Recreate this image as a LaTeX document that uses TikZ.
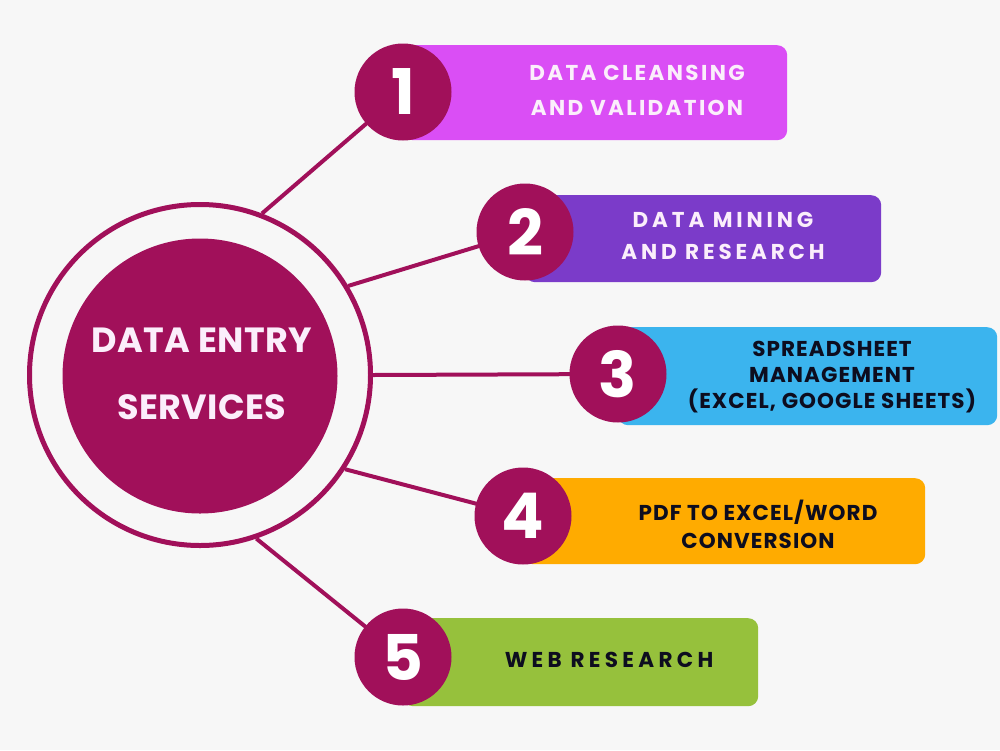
\documentclass[tikz,border=0pt]{standalone}
\usepackage{fontspec}
\setmainfont{Poppins}
\newfontfamily\lsa{Poppins}[LetterSpace=11]
\newfontfamily\lsb{Poppins}[LetterSpace=18]
\newfontfamily\lsc{Poppins}[LetterSpace=5]
\newfontfamily\lsd{Poppins}[LetterSpace=5]
\newfontfamily\lse{Poppins}[LetterSpace=20]
\newfontfamily\lsm{Poppins}[LetterSpace=1]
\pgfdeclarelayer{bg}
\pgfsetlayers{bg,main}
\definecolor{maroon}{HTML}{A1105A}
\definecolor{bgcol}{HTML}{F7F7F7}
\definecolor{cone}{HTML}{DA4EF5}
\definecolor{ctwo}{HTML}{7B3BC9}
\definecolor{cthree}{HTML}{3BB4EE}
\definecolor{cfour}{HTML}{FFAB00}
\definecolor{cfive}{HTML}{96C13C}
\definecolor{lighttxt}{HTML}{FBEEFB}
\definecolor{darktxt}{HTML}{0D0D1F}
\tikzset{
  numc/.style={circle, fill=maroon, minimum size=97pt, inner sep=0pt, text=white, font=\fontsize{63}{63}\selectfont\bfseries},
  itembox/.style={rectangle, rounded corners=10pt, inner sep=0pt, anchor=north west},
  conn/.style={draw=maroon, line width=4pt},
  lbl/.style={align=center, inner sep=0pt},
}
\begin{document}
\begin{tikzpicture}[x=1pt,y=-1pt]
\useasboundingbox (0,0) rectangle (1000,750);
% central
\node[circle, draw=maroon, line width=5pt, minimum size=341pt, inner sep=0pt] (ring) at (200,375) {};
\node[circle, fill=maroon, minimum size=275pt, inner sep=0pt] (core) at (200,376) {};
\node[lbl, text=lighttxt, font=\lsm\fontsize{35}{67}\selectfont\bfseries] (ctext) at (202,374) {DATA ENTRY\\SERVICES};
% boxes
\node[itembox, fill=cone,   minimum width=384pt, minimum height=95pt] (b1) at (403,45) {};
\node[itembox, fill=ctwo,   minimum width=356pt, minimum height=87pt] (b2) at (525,195) {};
\node[itembox, fill=cthree, minimum width=379pt, minimum height=98pt] (b3) at (618,327) {};
\node[itembox, fill=cfour,  minimum width=402pt, minimum height=86pt] (b4) at (523,478) {};
\node[itembox, fill=cfive,  minimum width=355pt, minimum height=88pt] (b5) at (403,618) {};
% number circles
\node[numc] (n1) at (403,92) {1};
\node[numc] (n2) at (525,232) {2};
\node[numc] (n3) at (618,374) {3};
\node[numc] (n4) at (523,516) {4};
\node[numc] (n5) at (403,657) {5};
% labels
\node[lbl, text=lighttxt, font=\lsa\fontsize{21.5}{35}\selectfont\bfseries] (t1) at (637,90) {DATA CLEANSING\\AND VALIDATION};
\node[lbl, text=lighttxt, font=\lsb\fontsize{21.5}{32}\selectfont\bfseries] (t2) at (723,236) {DATA MINING\\AND RESEARCH};
\node[lbl, text=darktxt, font=\lsc\fontsize{21.5}{26}\selectfont\bfseries] (t3) at (832,377) {SPREADSHEET\\MANAGEMENT\\(EXCEL, GOOGLE SHEETS)};
\node[lbl, text=darktxt, font=\lsd\fontsize{21.5}{28}\selectfont\bfseries] (t4) at (758,524) {PDF TO EXCEL/WORD\\CONVERSION};
\node[lbl, text=darktxt, font=\lse\fontsize{21.5}{19}\selectfont\bfseries] (t5) at (609,660) {WEB RESEARCH};
% connectors
\begin{pgfonlayer}{bg}
\fill[bgcol] (0,0) rectangle (1000,750);
\draw[conn] (ring.69) -- (n1.center);
\draw[conn] (ring.31) -- (n2.center);
\draw[conn] (ring.0) -- (n3.center);
\draw[conn] (ring.-33) -- (n4.center);
\draw[conn] (ring.-71) -- (n5.center);
\end{pgfonlayer}
\end{tikzpicture}
\end{document}
